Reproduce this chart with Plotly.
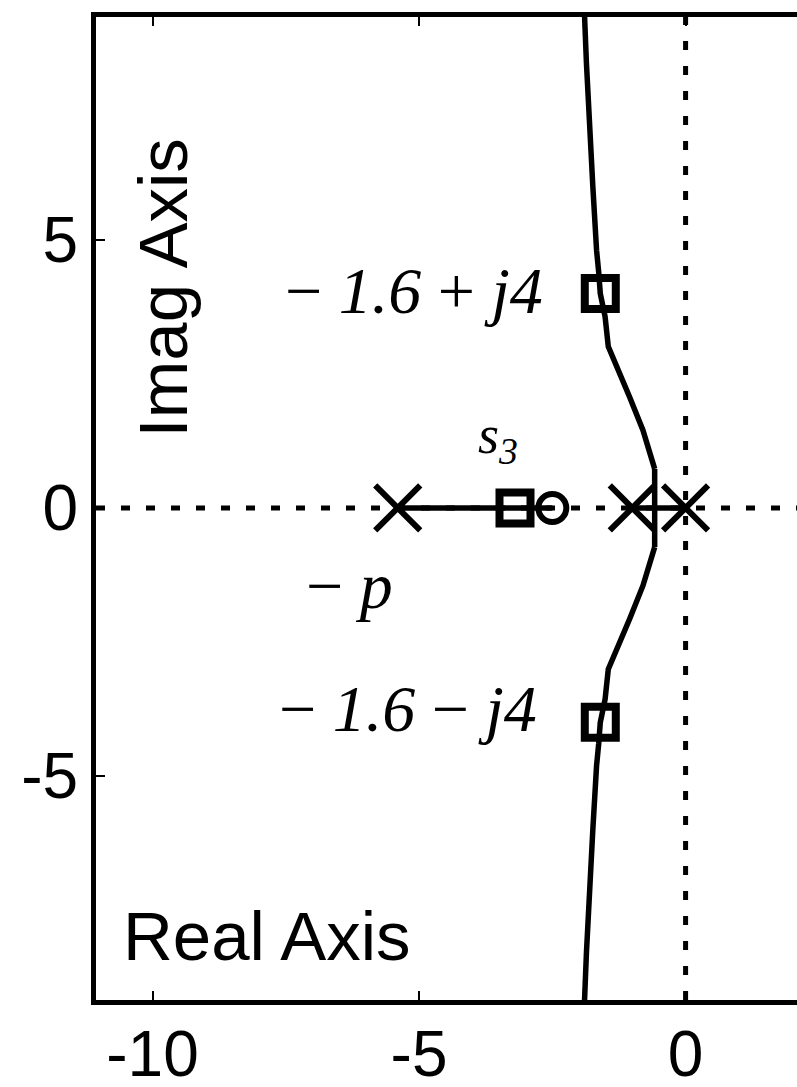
import plotly.graph_objects as go

# Open-loop poles and zero on the real axis
pole_x = [-5.4, -1.0, 0.0]
pole_y = [0.0, 0.0, 0.0]
zero_x = [-2.5]
zero_y = [0.0]

# Closed-loop poles for the chosen gain
cl_x = [-3.2, -1.6, -1.6]
cl_y = [0.0, 4.0, -4.0]

# Locus branches
real_branch_x = [-5.4, -2.5]
real_branch_y = [0.0, 0.0]

pair_branch_x = [-1.0, 0.0]
pair_branch_y = [0.0, 0.0]

break_x = [-0.58, -0.58]
break_y = [-0.73, 0.73]

upper_x = [-0.58, -0.64, -0.80, -1.05, -1.29, -1.45, -1.51, -1.60, -1.63, -1.67, -1.74, -1.80, -1.86, -1.92]
upper_y = [0.73, 0.95, 1.45, 2.07, 2.63, 3.01, 3.57, 4.0, 4.4, 4.81, 6.0, 7.0, 8.3, 9.8]

lower_x = [-0.58, -0.64, -0.80, -1.05, -1.29, -1.45, -1.51, -1.60, -1.63, -1.67, -1.74, -1.80, -1.86, -1.92]
lower_y = [-0.73, -0.95, -1.45, -2.07, -2.63, -3.01, -3.57, -4.0, -4.4, -4.81, -6.0, -7.0, -8.3, -9.8]

# Axes
x_range = [-11.06, 2.09]
y_range = [-9.18, 9.16]
x_ticks = [-10, -5, 0]
x_ticktext = ["-10", "-5", "0"]
y_ticks = [-5, 0, 5]
y_ticktext = ["-5", "0", "5"]

BLACK = "#000000"
SANS = "Liberation Sans, Arial, sans-serif"
SERIF = "Liberation Serif, Times New Roman, serif"

fig = go.Figure()

line_style = dict(color=BLACK, width=5.5)
for bx, by in [(real_branch_x, real_branch_y), (pair_branch_x, pair_branch_y),
               (break_x, break_y), (upper_x, upper_y), (lower_x, lower_y)]:
    fig.add_trace(go.Scatter(x=bx, y=by, mode="lines", line=line_style,
                             hoverinfo="skip", showlegend=False))

fig.add_trace(go.Scatter(
    x=pole_x, y=pole_y, mode="markers", showlegend=False,
    marker=dict(symbol="x-thin", size=45, line=dict(color=BLACK, width=6)),
))
fig.add_trace(go.Scatter(
    x=zero_x, y=zero_y, mode="markers", showlegend=False,
    marker=dict(symbol="circle-open", size=28, color=BLACK, line=dict(color=BLACK, width=6)),
))
fig.add_trace(go.Scatter(
    x=cl_x, y=cl_y, mode="markers", showlegend=False,
    marker=dict(symbol="square-open", size=31, color=BLACK, line=dict(color=BLACK, width=8)),
))

# Dotted axes through the origin
dot = dict(color=BLACK, width=5, dash="9px,16px")
fig.add_shape(type="line", xref="x", yref="paper", x0=0, x1=0, y0=0, y1=1,
              line=dot, layer="below")
fig.add_shape(type="line", xref="paper", yref="y", x0=0, x1=1, y0=0, y1=0,
              line=dot, layer="below")

math_font = dict(family=SERIF, size=66, color=BLACK)
fig.add_annotation(x=-2.64, y=4.05, xref="x", yref="y", xanchor="right", yanchor="middle",
                   text="\u2212 <i>1.6</i> + <i>j4</i>", showarrow=False, font=math_font)
fig.add_annotation(x=-2.75, y=-3.75, xref="x", yref="y", xanchor="right", yanchor="middle",
                   text="\u2212 <i>1.6</i> \u2212 <i>j4</i>", showarrow=False, font=math_font)
fig.add_annotation(x=-3.52, y=1.3, xref="x", yref="y", xanchor="center", yanchor="middle",
                   text="<i>s</i><sub><i>3</i></sub>", showarrow=False,
                   font=dict(family=SERIF, size=54, color=BLACK))
fig.add_annotation(x=-6.3, y=-1.45, xref="x", yref="y", xanchor="center", yanchor="middle",
                   text="\u2212 <i>p</i>", showarrow=False, font=math_font)

label_font = dict(family=SANS, size=69, color=BLACK)
fig.add_annotation(x=-9.8, y=4.1, xref="x", yref="y", xanchor="center", yanchor="middle",
                   text="Imag Axis", textangle=-90, showarrow=False, font=label_font)
fig.add_annotation(x=-7.85, y=-8.0, xref="x", yref="y", xanchor="center", yanchor="middle",
                   text="Real Axis", showarrow=False, font=label_font)

fig.update_xaxes(range=x_range, tickvals=x_ticks, ticktext=x_ticktext,
                 showline=True, linewidth=5, linecolor=BLACK, mirror="ticks",
                 ticks="inside", ticklen=9, tickwidth=2, tickcolor=BLACK,
                 showgrid=False, zeroline=False, automargin=False,
                 ticklabelstandoff=-6,
                 tickfont=dict(family=SANS, size=64, color=BLACK))
fig.update_yaxes(range=y_range, tickvals=y_ticks, ticktext=y_ticktext,
                 showline=True, linewidth=5, linecolor=BLACK, mirror=False,
                 ticks="inside", ticklen=9, tickwidth=2, tickcolor=BLACK,
                 showgrid=False, zeroline=False, automargin=False,
                 tickfont=dict(family=SANS, size=64, color=BLACK))

fig.update_layout(width=797, height=1087, margin=dict(l=96, r=0, t=17, b=87),
                  plot_bgcolor="white", paper_bgcolor="white", showlegend=False)

fig.write_html("out.html")
